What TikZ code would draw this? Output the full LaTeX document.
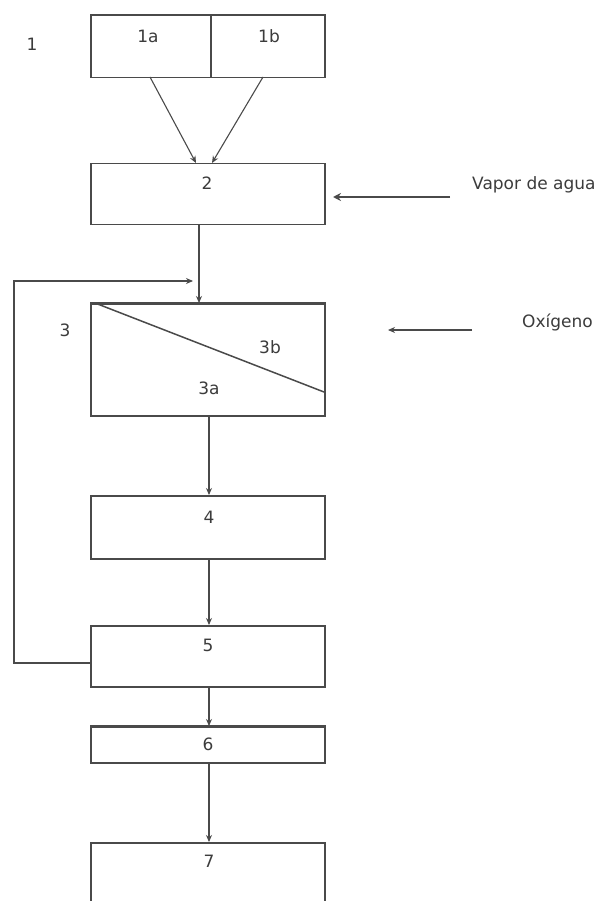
\documentclass[tikz,border=0pt]{standalone}
\usepackage{fontspec}
\setmainfont{DejaVu Sans}
\usetikzlibrary{arrows.meta,calc}
\definecolor{ln}{HTML}{4A4A4A}
\definecolor{tx}{HTML}{3C3C3C}
\begin{document}
\begin{tikzpicture}[x=1pt,y=-1pt,
  box/.style={draw=ln,line width=1.5pt,rectangle,inner sep=0pt,anchor=north west},
  lbl/.style={text=tx,font=\fontsize{17}{20}\selectfont,inner sep=0pt},
  arr/.style={draw=ln,line width=1.1pt,-{Stealth[length=7pt,width=6pt]}},
  thickarr/.style={draw=ln,line width=2.6pt,-{Stealth[length=8pt,width=8pt]}},
  topedge/.style={draw=ln,line width=2.6pt}]
\useasboundingbox (0,0) rectangle (612,901);
\clip (0,0) rectangle (612,901);
\fill[white] (0,0) rectangle (612,901);
% boxes
\node[box,minimum width=120pt,minimum height=62pt] (b1a) at (90,15) {};
\node[box,minimum width=114pt,minimum height=62pt] (b1b) at (210,15) {};
\node[box,minimum width=234pt,minimum height=61pt] (b2) at (90,163) {};
\node[box,minimum width=234pt,minimum height=112pt] (b3) at (90,303) {};
\node[box,minimum width=234pt,minimum height=63pt] (b4) at (90,495) {};
\node[box,minimum width=234pt,minimum height=61pt] (b5) at (90,625) {};
\node[box,minimum width=234pt,minimum height=36pt] (b6) at (90,726) {};
\node[box,minimum width=234pt,minimum height=70pt] (b7) at (90,842) {};
% heavier top edges
\draw[topedge] (b1a.north west) -- (b1b.north east);
\draw[topedge] (b3.north west) -- (b3.north east);
\draw[topedge] (b6.north west) -- (b6.north east);
% diagonal in box 3
\coordinate (d3) at (324,392);
\draw[draw=ln,line width=1.5pt] ($(b3.north west)+(5,0)$) -- (d3);
% labels
\node[lbl] (t1) at (32,44) {1};
\node[lbl] (t1a) at (148,36) {1a};
\node[lbl] (t1b) at (269,36) {1b};
\node[lbl] (t2) at (207,183) {2};
\node[lbl] (t3) at (65,330) {3};
\node[lbl] (t3b) at (270,347) {3b};
\node[lbl] (t3a) at (209,388) {3a};
\node[lbl] (t4) at (209,517) {4};
\node[lbl] (t5) at (208,645) {5};
\node[lbl] (t6) at (208,744) {6};
\node[lbl] (t7) at (209,861) {7};
\node[lbl,anchor=west] (vap) at (472,185) {Vapor de agua};
\node[lbl,anchor=west] (oxi) at (522,322) {Oxígeno};
% connectors
\coordinate (a1s) at (150,77);
\coordinate (a1e) at (196,163);
\coordinate (b1s) at (263,77);
\coordinate (b1e) at (212,163);
\draw[arr] (a1s) -- (a1e);
\draw[arr] (b1s) -- (b1e);
\coordinate (x199) at (199,0);
\draw[arr] (b2.south -| x199) -- (b3.north -| x199);
\coordinate (x209) at (209,0);
\draw[arr] (b3.south -| x209) -- (b4.north -| x209);
\draw[arr] (b4.south -| x209) -- (b5.north -| x209);
\draw[arr] (b5.south -| x209) -- (b6.north -| x209);
\draw[arr] (b6.south -| x209) -- (b7.north -| x209);
% feedback loop
\coordinate (fbs) at (90,663);
\coordinate (fbc) at (14,281);
\coordinate (fbe) at (193,281);
\draw[arr] (fbs) -| (fbc) -- (fbe);
% side inputs
\coordinate (vs) at (450,197);
\coordinate (ve) at (333,197);
\draw[thickarr] (vs) -- (ve);
\coordinate (os) at (472,330);
\coordinate (oe) at (388,330);
\draw[arr] (os) -- (oe);
\end{tikzpicture}
\end{document}
